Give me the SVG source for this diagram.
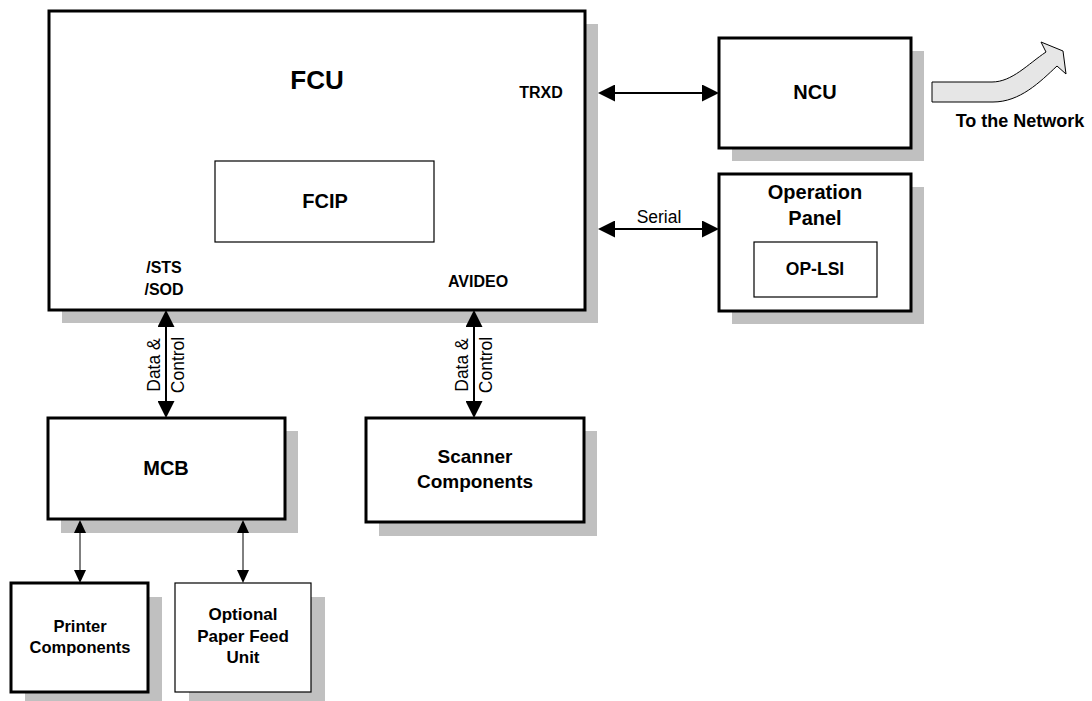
<svg xmlns="http://www.w3.org/2000/svg" width="1092" height="701" viewBox="0 0 1092 701">
<defs>
<style>
.box{fill:#fff;stroke:#000;stroke-width:3}
.thin{fill:#fff;stroke:#000;stroke-width:1.2}
.sh{fill:#c0c0c0;stroke:none}
.b{font-family:"Liberation Sans",Arial,sans-serif;font-weight:bold;fill:#000;text-anchor:middle}
.n{font-family:"Liberation Sans",Arial,sans-serif;fill:#000;text-anchor:middle}
.c2{stroke:#000;stroke-width:2;fill:none}
.c1{stroke:#000;stroke-width:1;fill:none}
</style>
<marker id="ah" markerUnits="userSpaceOnUse" viewBox="0 0 17 17" markerWidth="17" markerHeight="17" refX="14" refY="8.5" orient="auto-start-reverse"><path d="M0,0 L17,8.5 L0,17 Z" fill="#000"/></marker>
<marker id="as" markerUnits="userSpaceOnUse" viewBox="0 0 13 12" markerWidth="13" markerHeight="12" refX="11" refY="6" orient="auto-start-reverse"><path d="M0,0 L13,6 L0,12 Z" fill="#000"/></marker>
</defs>
<rect width="1092" height="701" fill="#fff"/>

<g id="fcu">
<rect class="sh" x="62" y="24" width="536" height="299"/>
<rect class="box" x="49" y="11" width="536" height="299"/>
<text class="b" x="317" y="89" font-size="26">FCU</text>
<g id="fcip">
<rect class="thin" x="215" y="161" width="219" height="81"/>
<text class="b" x="325" y="208" font-size="20">FCIP</text>
</g>
<text class="b" x="541" y="98" font-size="16">TRXD</text>
<text class="b" x="164" y="273" font-size="16">/STS</text>
<text class="b" x="164" y="295" font-size="16">/SOD</text>
<text class="b" x="478" y="287" font-size="16">AVIDEO</text>
</g>

<g id="ncu">
<rect class="sh" x="732" y="51" width="192" height="110"/>
<rect class="box" x="719" y="38" width="192" height="110"/>
<text class="b" x="815" y="99" font-size="20">NCU</text>
</g>

<g id="operation-panel">
<rect class="sh" x="732" y="187" width="192" height="137"/>
<rect class="box" x="719" y="174" width="192" height="137"/>
<text class="b" x="815" y="199" font-size="20">Operation</text>
<text class="b" x="815" y="225" font-size="20">Panel</text>
<g id="op-lsi">
<rect class="thin" x="754" y="242" width="123" height="55"/>
<text class="b" x="815" y="275" font-size="17.5">OP-LSI</text>
</g>
</g>

<g id="network">
<path d="M932,82 L992,82 C1012,82 1028,64 1046,52 L1041,42 L1063,51 L1066,74 L1057,66 C1040,82 1020,102 993,102 L932,102 Z" fill="#e6e6e6" stroke="#000" stroke-width="1"/>
<text class="b" x="1020" y="127" font-size="18">To the Network</text>
</g>

<g id="mcb">
<rect class="sh" x="61" y="431" width="237" height="102"/>
<rect class="box" x="48" y="418" width="237" height="101"/>
<text class="b" x="166" y="475" font-size="20">MCB</text>
</g>

<g id="scanner">
<rect class="sh" x="379" y="431" width="218" height="105"/>
<rect class="box" x="366" y="418" width="218" height="104"/>
<text class="b" x="475" y="463" font-size="19">Scanner</text>
<text class="b" x="475" y="488" font-size="19">Components</text>
</g>

<g id="printer">
<rect class="sh" x="25" y="597" width="137" height="110"/>
<rect class="box" x="11" y="583" width="137" height="109"/>
<text class="b" x="80" y="632" font-size="16.5">Printer</text>
<text class="b" x="80" y="653" font-size="16.5">Components</text>
</g>

<g id="optional-pfu">
<rect class="sh" x="189" y="597" width="136" height="110"/>
<rect class="thin" x="175" y="583" width="136" height="109"/>
<text class="b" x="243" y="620" font-size="17">Optional</text>
<text class="b" x="243" y="642" font-size="17">Paper Feed</text>
<text class="b" x="243" y="663" font-size="17">Unit</text>
</g>

<g id="connectors">
<line class="c2" x1="601" y1="93" x2="716" y2="93" marker-start="url(#ah)" marker-end="url(#ah)"/>
<line class="c2" x1="601" y1="229" x2="716" y2="229" marker-start="url(#ah)" marker-end="url(#ah)"/>
<text class="n" x="659" y="223" font-size="17.5">Serial</text>
<line class="c2" x1="166" y1="313" x2="166" y2="415" marker-start="url(#ah)" marker-end="url(#ah)"/>
<text class="n" x="160" y="365" font-size="17.5" transform="rotate(-90 160 365)">Data &amp;</text>
<text class="n" x="184" y="365" font-size="17.5" transform="rotate(-90 184 365)">Control</text>
<line class="c2" x1="474" y1="313" x2="474" y2="415" marker-start="url(#ah)" marker-end="url(#ah)"/>
<text class="n" x="468" y="365" font-size="17.5" transform="rotate(-90 468 365)">Data &amp;</text>
<text class="n" x="492" y="365" font-size="17.5" transform="rotate(-90 492 365)">Control</text>
<line class="c1" x1="80" y1="522" x2="80" y2="581" marker-start="url(#as)" marker-end="url(#as)"/>
<line class="c1" x1="243" y1="522" x2="243" y2="581" marker-start="url(#as)" marker-end="url(#as)"/>
</g>
</svg>
